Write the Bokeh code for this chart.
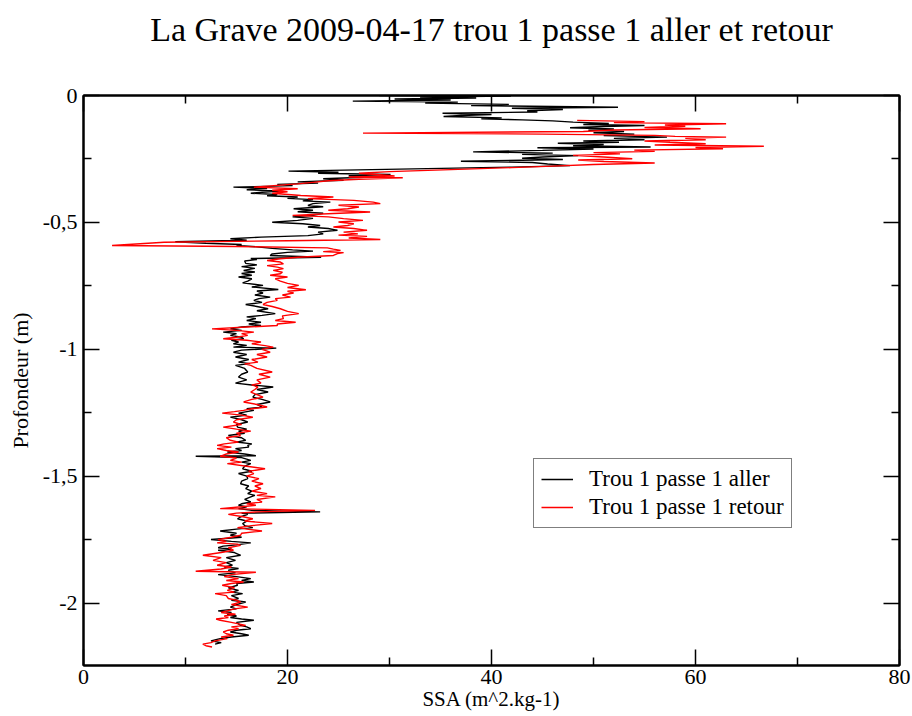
from bokeh.plotting import figure
from bokeh.models import (FixedTicker, LinearAxis, Legend, LegendItem, Range1d)
from bokeh.embed import file_html
from bokeh.resources import INLINE

# ---- data: SSA (m^2/kg) vs depth (m) ----
aller_depth = [0.000, -0.002, -0.006, -0.010, -0.014, -0.018, -0.022, -0.026, -0.030, -0.035,
    -0.040, -0.046, -0.050, -0.055, -0.060, -0.065, -0.070, -0.075, -0.079, -0.083,
    -0.088, -0.092, -0.096, -0.100, -0.105, -0.110, -0.114, -0.118, -0.122, -0.127,
    -0.132, -0.137, -0.142, -0.147, -0.152, -0.158, -0.164, -0.169, -0.174, -0.179,
    -0.184, -0.188, -0.193, -0.198, -0.203, -0.206, -0.211, -0.216, -0.222, -0.227,
    -0.232, -0.237, -0.242, -0.247, -0.252, -0.259, -0.264, -0.270, -0.276, -0.282,
    -0.290, -0.298, -0.302, -0.306, -0.311, -0.316, -0.322, -0.328, -0.334, -0.340,
    -0.345, -0.350, -0.355, -0.361, -0.366, -0.371, -0.376, -0.381, -0.385, -0.390,
    -0.395, -0.400, -0.405, -0.410, -0.415, -0.420, -0.426, -0.433, -0.438, -0.446,
    -0.452, -0.458, -0.464, -0.472, -0.478, -0.484, -0.492, -0.499, -0.505, -0.512,
    -0.518, -0.524, -0.531, -0.538, -0.545, -0.552, -0.558, -0.564, -0.570, -0.576,
    -0.582, -0.587, -0.591, -0.596, -0.602, -0.608, -0.613, -0.618, -0.624, -0.630,
    -0.637, -0.642, -0.646, -0.652, -0.661, -0.667, -0.674, -0.681, -0.689, -0.695,
    -0.701, -0.708, -0.715, -0.722, -0.731, -0.738, -0.748, -0.754, -0.764, -0.770,
    -0.778, -0.786, -0.794, -0.800, -0.807, -0.815, -0.823, -0.831, -0.840, -0.848,
    -0.859, -0.866, -0.872, -0.879, -0.886, -0.893, -0.900, -0.906, -0.912, -0.919,
    -0.925, -0.932, -0.938, -0.945, -0.952, -0.958, -0.964, -0.971, -0.978, -0.984,
    -0.991, -0.995, -1.003, -1.011, -1.020, -1.030, -1.040, -1.050, -1.056, -1.063,
    -1.075, -1.089, -1.098, -1.109, -1.120, -1.133, -1.140, -1.148, -1.158, -1.168,
    -1.178, -1.188, -1.197, -1.207, -1.217, -1.227, -1.234, -1.240, -1.251, -1.259,
    -1.267, -1.277, -1.286, -1.296, -1.306, -1.314, -1.322, -1.330, -1.339, -1.348,
    -1.358, -1.365, -1.372, -1.378, -1.385, -1.391, -1.398, -1.404, -1.412, -1.419,
    -1.421, -1.426, -1.437, -1.444, -1.450, -1.460, -1.470, -1.480, -1.489, -1.499,
    -1.509, -1.519, -1.529, -1.538, -1.548, -1.558, -1.568, -1.575, -1.581, -1.591,
    -1.601, -1.608, -1.614, -1.620, -1.627, -1.634, -1.640, -1.645, -1.650, -1.658,
    -1.667, -1.676, -1.686, -1.694, -1.702, -1.708, -1.715, -1.724, -1.732, -1.740,
    -1.749, -1.756, -1.762, -1.770, -1.775, -1.781, -1.786, -1.791, -1.800, -1.811,
    -1.820, -1.831, -1.840, -1.850, -1.857, -1.863, -1.870, -1.880, -1.887, -1.895,
    -1.903, -1.910, -1.916, -1.922, -1.929, -1.939, -1.949, -1.956, -1.962, -1.970,
    -1.981, -1.988, -1.995, -2.005, -2.015, -2.022, -2.030, -2.036, -2.043, -2.050,
    -2.056, -2.062, -2.067, -2.075, -2.087, -2.093, -2.100, -2.106, -2.113, -2.120,
    -2.126, -2.133, -2.139, -2.148, -2.155, -2.161]
aller_ssa = [29.0, 41.9, 33.0, 38.5, 30.5, 36.0, 26.4, 36.7, 33.5, 41.7,
    38.0, 52.4, 42.0, 47.0, 43.5, 44.5, 35.2, 40.0, 37.0, 35.3,
    41.0, 39.0, 43.0, 46.0, 48.0, 51.5, 49.0, 55.0, 51.0, 47.7,
    52.0, 49.5, 53.0, 50.0, 54.0, 51.0, 57.2, 52.0, 55.0, 49.0,
    52.5, 46.5, 51.0, 48.0, 55.6, 44.5, 50.0, 45.0, 38.2, 46.0,
    43.0, 48.5, 45.0, 43.0, 47.0, 37.0, 44.0, 45.5, 47.7, 42.0,
    31.0, 20.1, 25.0, 23.0, 30.1, 26.0, 27.5, 23.5, 25.5, 21.0,
    23.0, 19.0, 20.5, 14.7, 18.0, 16.0, 19.3, 17.5, 16.4, 19.0,
    18.0, 21.0, 20.0, 22.5, 21.5, 24.2, 22.5, 22.0, 23.5, 20.6,
    22.5, 21.0, 23.5, 22.5, 20.5, 22.5, 21.0, 18.5, 21.5, 23.2,
    22.0, 24.0, 24.9, 23.0, 23.5, 22.0, 17.4, 14.4, 16.0, 9.0,
    12.0, 15.5, 15.0, 17.0, 18.5, 20.5, 22.5, 20.0, 18.5, 18.3,
    23.3, 16.4, 17.0, 15.8, 15.9, 17.0, 15.5, 16.8, 15.7, 16.8,
    15.5, 16.5, 15.2, 16.5, 16.1, 15.6, 17.6, 16.5, 19.1, 17.0,
    17.6, 16.8, 18.3, 17.2, 16.7, 17.5, 15.9, 17.0, 18.1, 17.0,
    18.8, 17.5, 16.0, 16.9, 16.0, 17.4, 16.2, 17.4, 15.5, 14.4,
    15.5, 13.7, 15.0, 14.4, 15.5, 15.7, 14.5, 15.2, 14.7, 16.0,
    14.7, 18.9, 15.5, 14.7, 16.0, 14.9, 16.2, 15.2, 16.3, 14.9,
    15.8, 16.1, 15.5, 15.2, 16.0, 14.9, 16.5, 18.6, 17.0, 18.1,
    16.8, 16.6, 17.5, 18.3, 17.0, 17.5, 16.0, 16.7, 15.2, 16.0,
    14.4, 15.5, 16.1, 15.0, 15.1, 16.0, 15.2, 15.8, 14.2, 15.5,
    15.9, 15.0, 16.5, 16.1, 16.2, 14.9, 15.5, 14.1, 15.8, 16.9,
    11.0, 15.5, 16.4, 15.5, 16.4, 15.8, 15.6, 16.5, 15.2, 16.0,
    16.1, 15.5, 15.4, 16.2, 15.9, 16.5, 16.1, 16.8, 16.4, 15.8,
    16.4, 15.5, 15.2, 16.0, 15.2, 16.5, 23.2, 15.5, 16.1, 15.5,
    15.1, 16.0, 15.6, 15.8, 16.6, 15.0, 13.4, 15.0, 14.4, 15.5,
    12.5, 14.5, 16.4, 15.0, 13.7, 13.2, 14.5, 13.2, 14.8, 15.4,
    14.0, 14.9, 14.0, 14.6, 13.8, 15.2, 14.2, 14.9, 13.2, 15.0,
    16.4, 15.5, 16.7, 15.0, 15.1, 14.2, 15.2, 14.5, 15.6, 14.5,
    15.2, 14.5, 15.9, 15.0, 14.4, 15.0, 13.2, 14.5, 14.1, 15.0,
    14.4, 15.5, 16.7, 15.0, 15.4, 16.0, 16.4, 15.0, 14.4, 15.5,
    16.2, 14.5, 13.4, 12.5, 13.5, 12.9]

retour_depth = [-0.098, -0.103, -0.107, -0.111, -0.116, -0.121, -0.126, -0.131, -0.136, -0.142,
    -0.148, -0.152, -0.157, -0.161, -0.164, -0.169, -0.174, -0.179, -0.184, -0.190,
    -0.195, -0.200, -0.205, -0.210, -0.215, -0.220, -0.225, -0.230, -0.236, -0.242,
    -0.249, -0.254, -0.260, -0.266, -0.272, -0.278, -0.284, -0.292, -0.300, -0.306,
    -0.312, -0.317, -0.321, -0.324, -0.330, -0.336, -0.342, -0.348, -0.354, -0.361,
    -0.367, -0.373, -0.379, -0.385, -0.394, -0.400, -0.406, -0.413, -0.420, -0.426,
    -0.432, -0.439, -0.446, -0.452, -0.459, -0.465, -0.472, -0.478, -0.485, -0.492,
    -0.498, -0.505, -0.512, -0.518, -0.524, -0.531, -0.538, -0.545, -0.550, -0.555,
    -0.561, -0.567, -0.572, -0.578, -0.591, -0.595, -0.600, -0.605, -0.610, -0.615,
    -0.619, -0.623, -0.630, -0.637, -0.643, -0.650, -0.656, -0.663, -0.670, -0.676,
    -0.682, -0.689, -0.696, -0.702, -0.708, -0.715, -0.722, -0.731, -0.740, -0.748,
    -0.756, -0.765, -0.771, -0.778, -0.786, -0.794, -0.800, -0.807, -0.815, -0.823,
    -0.831, -0.840, -0.850, -0.859, -0.868, -0.879, -0.886, -0.893, -0.900, -0.906,
    -0.912, -0.919, -0.925, -0.932, -0.938, -0.945, -0.952, -0.958, -0.964, -0.971,
    -0.978, -0.985, -0.991, -1.000, -1.011, -1.020, -1.030, -1.040, -1.050, -1.057,
    -1.063, -1.075, -1.089, -1.098, -1.109, -1.120, -1.133, -1.140, -1.148, -1.158,
    -1.168, -1.178, -1.188, -1.197, -1.207, -1.217, -1.227, -1.234, -1.240, -1.245,
    -1.251, -1.259, -1.267, -1.277, -1.286, -1.296, -1.306, -1.314, -1.322, -1.330,
    -1.339, -1.348, -1.358, -1.365, -1.372, -1.378, -1.385, -1.391, -1.398, -1.404,
    -1.412, -1.421, -1.428, -1.437, -1.444, -1.450, -1.460, -1.470, -1.480, -1.489,
    -1.499, -1.509, -1.519, -1.529, -1.538, -1.548, -1.558, -1.568, -1.575, -1.581,
    -1.591, -1.601, -1.608, -1.614, -1.620, -1.627, -1.630, -1.634, -1.640, -1.645,
    -1.650, -1.658, -1.667, -1.676, -1.686, -1.694, -1.702, -1.708, -1.715, -1.724,
    -1.732, -1.740, -1.749, -1.756, -1.762, -1.767, -1.772, -1.781, -1.791, -1.800,
    -1.811, -1.820, -1.831, -1.840, -1.850, -1.857, -1.865, -1.874, -1.878, -1.887,
    -1.895, -1.903, -1.910, -1.916, -1.922, -1.929, -1.939, -1.949, -1.956, -1.962,
    -1.970, -1.981, -1.988, -1.995, -2.005, -2.015, -2.022, -2.030, -2.036, -2.043,
    -2.050, -2.056, -2.062, -2.067, -2.075, -2.087, -2.093, -2.100, -2.106, -2.113,
    -2.120, -2.126, -2.133, -2.139, -2.148, -2.155, -2.161, -2.167, -2.172]
retour_ssa = [48.4, 55.0, 52.0, 63.0, 57.0, 59.0, 55.0, 60.5, 52.0, 49.0,
    27.4, 45.0, 56.0, 58.0, 63.0, 59.0, 61.0, 55.0, 57.5, 61.0,
    56.0, 66.7, 60.0, 62.7, 54.0, 56.0, 50.0, 52.6, 48.0, 51.0,
    53.8, 48.5, 51.0, 56.0, 50.0, 46.0, 42.0, 36.0, 30.0, 27.0,
    29.0, 30.5, 26.0, 31.3, 27.0, 24.0, 22.5, 21.0, 19.0, 16.7,
    21.0, 18.5, 20.0, 18.5, 21.3, 24.5, 22.0, 26.5, 28.4, 29.1,
    25.0, 27.0, 25.9, 24.0, 28.1, 24.5, 20.5, 24.0, 25.5, 27.4,
    25.0, 26.5, 25.9, 24.5, 26.5, 27.8, 25.5, 26.9, 25.0, 27.8,
    26.0, 29.1, 20.0, 7.9, 2.8, 15.0, 23.9, 24.5, 25.2, 23.5,
    25.5, 24.9, 24.5, 21.0, 19.3, 18.0, 19.3, 19.6, 18.0, 19.0,
    19.6, 18.6, 19.5, 19.3, 18.3, 20.0, 18.8, 19.3, 20.0, 21.1,
    20.0, 21.8, 20.0, 20.6, 19.5, 20.3, 18.8, 19.0, 18.0, 17.6,
    18.5, 19.3, 20.0, 21.1, 19.5, 19.6, 18.8, 20.8, 19.0, 19.0,
    16.0, 12.6, 15.0, 16.7, 15.5, 16.1, 15.0, 13.7, 16.0, 17.4,
    16.5, 17.8, 18.6, 17.5, 18.3, 17.0, 18.0, 16.5, 17.1, 15.8,
    16.4, 17.0, 18.5, 17.2, 18.3, 17.0, 17.4, 16.5, 17.1, 16.8,
    16.4, 17.0, 17.6, 16.5, 15.7, 17.0, 18.0, 16.5, 15.7, 14.8,
    13.6, 15.5, 16.6, 15.0, 14.7, 15.5, 13.7, 15.0, 16.4, 15.0,
    15.4, 14.0, 14.4, 15.2, 13.8, 13.1, 14.5, 13.1, 14.0, 15.2,
    14.0, 13.4, 15.0, 14.4, 15.5, 14.1, 16.0, 17.8, 16.2, 16.7,
    16.0, 17.2, 16.5, 17.6, 16.8, 17.4, 16.5, 18.0, 17.0, 18.8,
    17.0, 17.5, 16.0, 16.9, 15.5, 13.4, 18.0, 22.7, 17.0, 15.0,
    14.2, 15.5, 16.6, 15.8, 18.5, 16.5, 15.1, 16.0, 17.5, 15.5,
    15.4, 14.5, 13.2, 14.0, 13.1, 15.1, 15.4, 14.2, 14.7, 13.5,
    11.7, 13.5, 12.7, 14.0, 13.1, 14.5, 13.5, 11.0, 16.9, 14.5,
    13.8, 15.2, 14.0, 15.7, 14.5, 13.6, 14.8, 14.1, 14.8, 12.9,
    14.0, 14.2, 15.0, 15.4, 14.5, 16.1, 14.8, 14.1, 13.5, 14.9,
    13.8, 14.2, 13.0, 13.4, 14.5, 15.9, 14.5, 15.2, 14.2, 13.7,
    14.0, 14.7, 13.5, 14.1, 12.9, 12.5, 11.7, 12.0, 12.6]

x_ticks = [0, 20, 40, 60, 80]
x_minor = [10, 30, 50, 70]
y_ticks = [0, -0.5, -1, -1.5, -2]
y_tick_labels = ["0", "-0,5", "-1", "-1,5", "-2"]
y_minor = [-0.25, -0.75, -1.25, -1.75, -2.25]
series_names = ["Trou 1 passe 1 aller", "Trou 1 passe 1 retour"]
series_colors = ["black", "red"]
title_text = "La Grave 2009-04-17 trou 1 passe 1 aller et retour"

FONT = "Liberation Serif"

p = figure(width=912, height=716, output_backend="svg", toolbar_location=None,
           x_range=Range1d(0, 80), y_range=Range1d(-2.245, 0),
           min_border_left=83, min_border_right=13, min_border_top=95, min_border_bottom=51,
           background_fill_color="white", border_fill_color="white")
p.grid.visible = False
p.outline_line_color = "black"
p.outline_line_width = 2

p.title.text = title_text
p.title.align = "center"
p.title.text_font = FONT
p.title.text_font_size = "34px"
p.title.text_font_style = "normal"
p.title.text_color = "black"
p.title.standoff = 10

r1 = p.line(aller_ssa, aller_depth, line_color=series_colors[0], line_width=1.4)
r2 = p.line(retour_ssa, retour_depth, line_color=series_colors[1], line_width=1.4)

xt = FixedTicker(ticks=x_ticks, minor_ticks=x_minor)
yt = FixedTicker(ticks=y_ticks, minor_ticks=y_minor)

def style_axis(ax):
    ax.axis_line_width = 2
    ax.axis_line_color = "black"
    ax.major_tick_in = 16
    ax.major_tick_out = 0
    ax.minor_tick_in = 8
    ax.minor_tick_out = 0
    ax.major_tick_line_width = 1.5
    ax.minor_tick_line_width = 1.5
    ax.major_tick_line_color = "black"
    ax.minor_tick_line_color = "black"
    ax.major_label_text_font = FONT
    ax.major_label_text_font_size = "22px"
    ax.major_label_text_color = "black"
    ax.axis_label_text_font = FONT
    ax.axis_label_text_font_size = "22px"
    ax.axis_label_text_font_style = "normal"
    ax.axis_label_text_color = "black"

xa = p.xaxis[0]
xa.ticker = xt
xa.axis_label = "SSA (m^2.kg-1)"
style_axis(xa)
xa.axis_label_text_font_size = "21px"
xa.major_label_standoff = 4
xa.axis_label_standoff = 0

ya = p.yaxis[0]
ya.ticker = yt
ya.major_label_overrides = {t: l for t, l in zip(y_ticks, y_tick_labels)}
ya.axis_label = "Profondeur (m)"
style_axis(ya)
ya.major_label_standoff = 6
ya.axis_label_standoff = 7

# mirrored axes (ticks only); the top one also reserves the space under the title
top = LinearAxis(ticker=xt)
style_axis(top)
top.major_label_text_font_size = "1px"
top.major_label_text_alpha = 0
top.axis_label = " "
top.axis_label_text_font_size = "10px"
top.axis_label_standoff = 29
p.add_layout(top, "above")
right = LinearAxis(ticker=yt)
style_axis(right)
right.major_label_text_font_size = "1px"
right.major_label_text_alpha = 0
p.add_layout(right, "right")

legend = Legend(items=[LegendItem(label=series_names[0], renderers=[r1]),
                       LegendItem(label=series_names[1], renderers=[r2])],
                location=(450, 137))
legend.label_text_font = FONT
legend.label_text_font_size = "23px"
legend.label_text_color = "black"
legend.border_line_color = "black"
legend.border_line_width = 1
legend.background_fill_alpha = 1
legend.glyph_width = 32
legend.label_standoff = 16
legend.padding = 7
legend.spacing = 2
legend.margin = 0
p.add_layout(legend, "center")

open("out.html", "w").write(file_html(p, INLINE))
